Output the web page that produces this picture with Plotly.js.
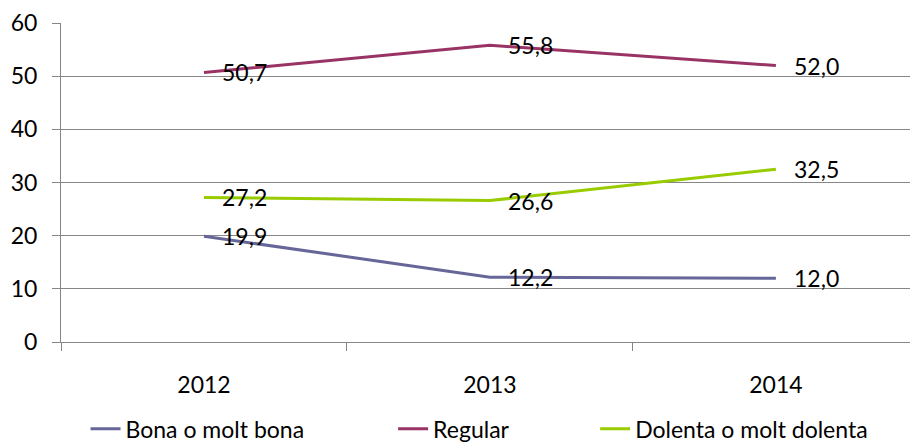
<!DOCTYPE html>
<html>
<head>
<meta charset="utf-8">
<script src="https://cdn.plot.ly/plotly-3.0.1.min.js"></script>
<style>html,body{margin:0;padding:0;background:#fff;}#chart{width:910px;height:444px;}</style>
</head>
<body>
<div id="chart"></div>
<script>
const years = ["2012", "2013", "2014"];
const bona = [19.9, 12.2, 12.0];
const regular = [50.7, 55.8, 52.0];
const dolenta = [27.2, 26.6, 32.5];
const seriesNames = ["Bona o molt bona", "Regular", "Dolenta o molt dolenta"];
const seriesColors = ["#666699", "#993366", "#99CC00"];

const FONT = "Lato, 'Open Sans', sans-serif";
const GRID = "#868686";
const xIdx = years.map((_, i) => i);
const allSeries = [bona, regular, dolenta];
const legendIds = ["legend", "legend2", "legend3"];
const legendX = [0.094, 0.432, 0.654];

const traces = allSeries.map((vals, s) => ({
  type: "scatter",
  mode: "lines",
  x: xIdx,
  y: vals,
  name: seriesNames[s],
  legend: legendIds[s],
  line: {color: seriesColors[s], width: 3},
  hoverinfo: "skip"
}));

const fmt = v => v.toFixed(1).replace(".", ",");
const annotations = [];
allSeries.forEach(vals => {
  vals.forEach((v, i) => {
    annotations.push({
      x: i, y: v, xref: "x", yref: "y",
      text: fmt(v), showarrow: false,
      xanchor: "left", yanchor: "middle", xshift: 16,
      font: {family: FONT, size: 23, color: "#000"}
    });
  });
});

const layout = {
  width: 910, height: 444,
  margin: {l: 61, r: 0, t: 23, b: 102, pad: 0, autoexpand: false},
  paper_bgcolor: "#fff", plot_bgcolor: "#fff",
  font: {family: FONT, size: 23, color: "#000"},
  showlegend: true,
  xaxis: {
    range: [-0.5, 2.469],
    tickmode: "array", tickvals: xIdx, ticktext: years,
    ticks: "", showgrid: false, zeroline: false,
    showline: true, linecolor: GRID, linewidth: 1,
    ticklabelstandoff: 22,
    tickfont: {family: FONT, size: 23, color: "#000"},
    minor: {tickmode: "array", tickvals: [-0.5, 0.5, 1.5], ticks: "outside", ticklen: 8, tickcolor: GRID, tickwidth: 1, showgrid: false},
    fixedrange: true
  },
  yaxis: {
    range: [0, 60], dtick: 10, tick0: 0,
    ticks: "outside", ticklen: 8, tickcolor: GRID, tickwidth: 1,
    showgrid: true, gridcolor: GRID, gridwidth: 1,
    zeroline: false, showline: true, linecolor: GRID, linewidth: 1,
    ticklabelstandoff: 10,
    tickfont: {family: FONT, size: 23, color: "#000"},
    fixedrange: true
  },
  annotations: annotations
};

legendIds.forEach((id, s) => {
  layout[id] = {
    orientation: "h", xref: "container", x: legendX[s], xanchor: "left",
    yref: "container", y: 0.034, yanchor: "middle",
    font: {family: FONT, size: 23, color: "#000"},
    bgcolor: "rgba(0,0,0,0)", borderwidth: 0
  };
});

Plotly.newPlot("chart", traces, layout, {staticPlot: true, displayModeBar: false});
</script>
</body>
</html>
